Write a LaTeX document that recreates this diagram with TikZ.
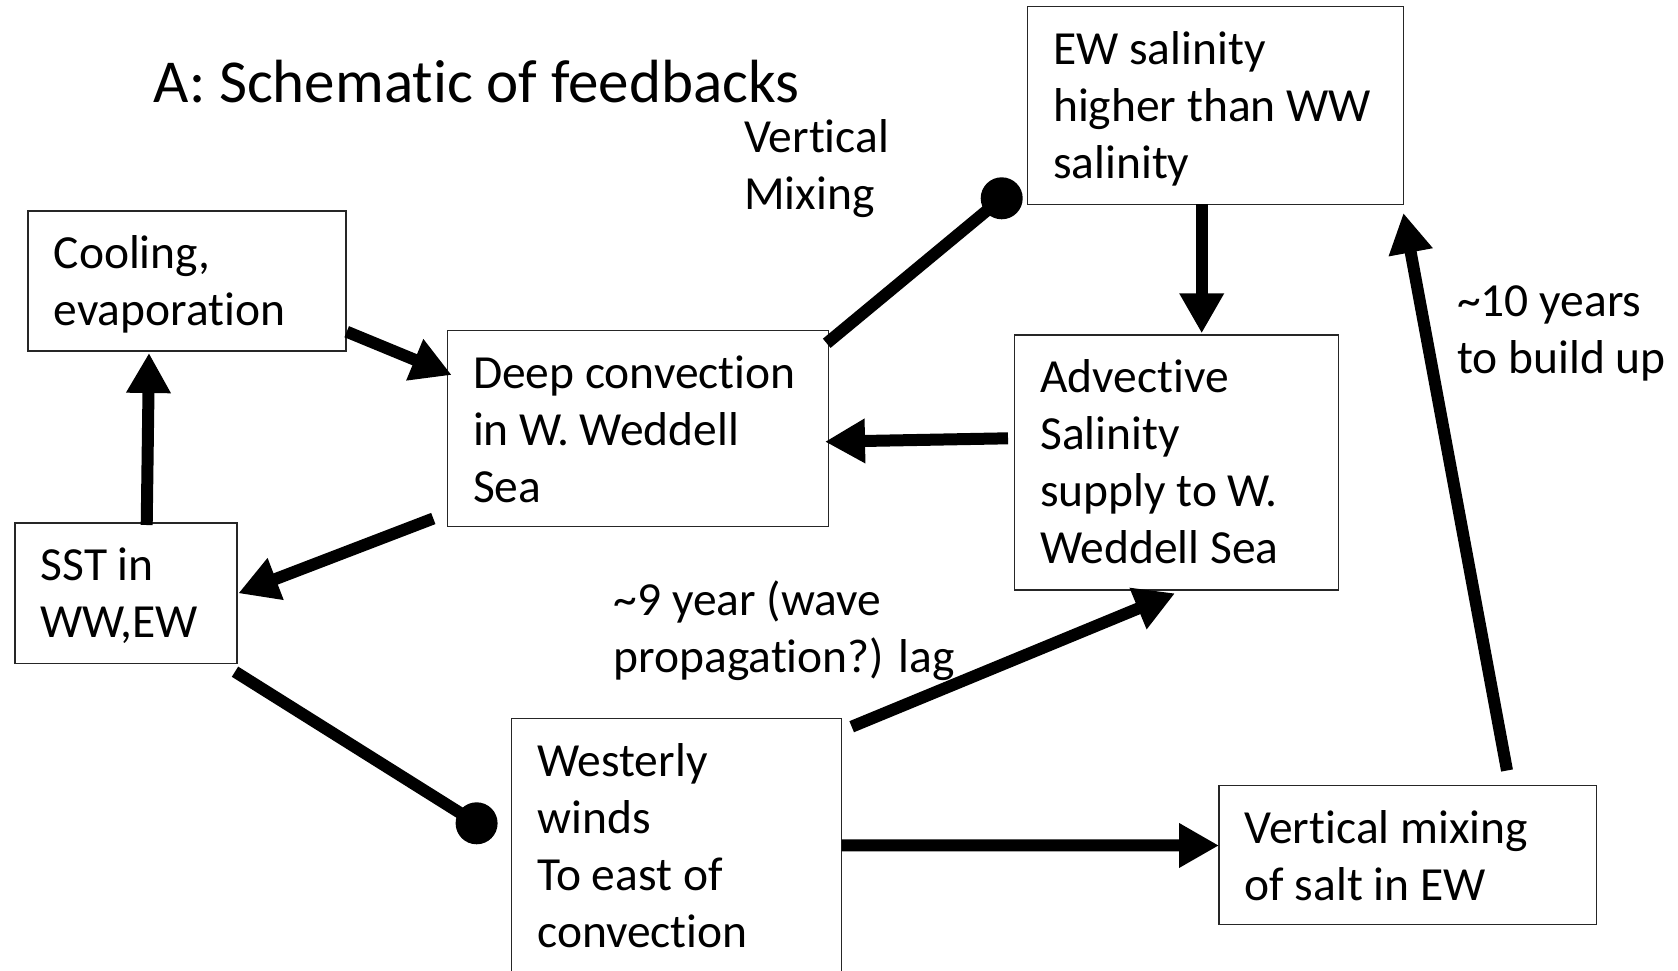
\documentclass[tikz,border=0pt]{standalone}
\usepackage{fontspec}
\setmainfont{Carlito}[Ligatures={NoCommon}]
\usetikzlibrary{arrows.meta,calc}
\begin{document}
\begin{tikzpicture}[x=1pt,y=-1pt,
  box/.style={draw=black!85, line width=1.3pt, inner sep=0pt, outer sep=0pt, anchor=north west},
  txt/.style={font=\fontsize{47.5pt}{57pt}\selectfont, align=left, inner sep=0pt, anchor=north west},
  conn/.style={line width=12pt, -{Triangle[length=40pt,width=42pt]}},
  bar/.style={line width=12pt},
  blob/.style={fill=black}
]
\useasboundingbox (0,0) rectangle (1678,971);
\clip (0,0) rectangle (1678,971);
\fill[white] (0,0) rectangle (1678,971);

% title
\node[anchor=base west, inner sep=0pt, font=\fontsize{61pt}{74pt}\selectfont] (title) at (153.5,102.7) {A: Schematic of feedbacks};

% boxes
\node[box, minimum width=318pt, minimum height=140pt] (cool) at (28,211) {};
\node[box, minimum width=381pt, minimum height=196pt] (deep) at (447.3,330.7) {};
\node[box, minimum width=376pt, minimum height=198pt] (ew) at (1027.4,6.4) {};
\node[box, minimum width=324.3pt, minimum height=255pt] (adv) at (1014.5,335) {};
\node[box, minimum width=222pt, minimum height=140.5pt] (sst) at (15,523) {};
\node[box, minimum width=330pt, minimum height=300pt] (west) at (511.6,718.3) {};
\node[box, minimum width=377.7pt, minimum height=139.2pt] (vmix) at (1219,785.5) {};

% box texts
\node[txt] (coolT) at ($(cool.north west)+(25.5,17.6)$) {\strut Cooling,\\evaporation};
\node[txt] (deepT) at ($(deep.north west)+(25.5,17.6)$) {\strut Deep convection\\in W. Weddell\\Sea};
\node[txt] (ewT) at ($(ew.north west)+(25.5,17.6)$) {\strut EW salinity\\higher than WW\\salinity};
\node[txt] (advT) at ($(adv.north west)+(25.5,17.6)$) {\strut Advective\\Salinity\\supply to W.\\Weddell Sea};
\node[txt] (sstT) at ($(sst.north west)+(25.5,17.6)$) {\strut SST in\\WW,EW};
\node[txt] (westT) at ($(west.north west)+(25.5,17.6)$) {\strut Westerly\\winds\\To east of\\convection};
\node[txt] (vmixT) at ($(vmix.north west)+(25.5,17.6)$) {\strut Vertical mixing\\of salt in EW};

% free labels
\node[txt] (vmlab) at (744,112.8) {\strut Vertical\\Mixing};
\node[txt] (laglab) at (613.5,575) {\strut \textasciitilde 9 year (wave\\propagation?) lag};
\node[txt] (yrslab) at (1457,276.8) {\strut \textasciitilde 10 years\\to build up};

% connectors
\draw[conn] ($(cool.south east)+(0.7,-19.3)$) -- ($(deep.north west)+(4.4,44.3)$);
\draw[conn] ($(sst.north west)+(131.7,2)$) -- ($(cool.south west)+(121,2)$);
\draw[conn] ($(deep.south west)+(-14,-8.2)$) -- ($(sst.north east)+(1.3,70.3)$);

\coordinate (dotA) at ($(ew.south west)+(-25.7,-6.1)$);
\draw[bar] ($(deep.north east)+(-1.6,12.6)$) -- (dotA);
\fill[blob] (dotA) circle (21pt);

\draw[conn] ($(ew.south west)+(174.3,0)$) -- ($(adv.north west)+(187.2,-1.7)$);
\draw[conn] ($(adv.north west)+(-6.5,103.3)$) -- ($(deep.north east)+(-3.3,111)$);

\coordinate (dotB) at ($(west.north west)+(-35,105)$);
\draw[bar] ($(sst.south east)+(-2,8.2)$) -- (dotB);
\fill[blob] (dotB) circle (21pt);

\draw[conn] ($(west.north east)+(10.1,8.4)$) -- ($(adv.south west)+(160.5,3.3)$);
\draw[conn] ($(west.north east)+(0,127)$) -- ($(vmix.north west)+(0,60)$);
\draw[conn] ($(vmix.north west)+(288,-15)$) -- ($(ew.south east)+(0,8.6)$);
\end{tikzpicture}
\end{document}
